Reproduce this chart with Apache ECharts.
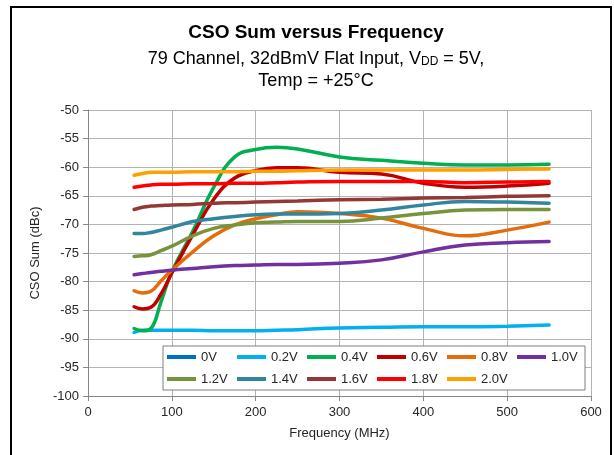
<!DOCTYPE html>
<html>
<head>
<meta charset="utf-8">
<script src="https://cdn.jsdelivr.net/npm/echarts@6/dist/echarts.min.js"></script>
<style>html,body{margin:0;padding:0;background:#fff}#c{width:614px;height:455px}</style>
</head>
<body>
<div id="c"></div>
<script>
// ---- data ----
var freq = [55, 65, 75, 87, 100, 125, 150, 175, 200, 225, 250, 300, 350, 400, 450, 500, 550];
var seriesNames = ['0V', '0.2V', '0.4V', '0.6V', '0.8V', '1.0V', '1.2V', '1.4V', '1.6V', '1.8V', '2.0V'];
var v0_0 = [];
var v0_2 = [-88.9, -88.5, -88.5, -88.5, -88.5, -88.5, -88.6, -88.6, -88.6, -88.5, -88.4, -88.1, -88.0, -87.9, -87.9, -87.8, -87.6];
var v0_4 = [-88.2, -88.6, -88.2, -83.6, -78.3, -71.2, -63.5, -58.2, -56.9, -56.5, -56.8, -58.2, -58.8, -59.3, -59.6, -59.6, -59.5];
var v0_6 = [-84.4, -84.8, -84.5, -82.2, -78.5, -71.8, -65.6, -61.9, -60.6, -60.1, -60.1, -60.9, -61.2, -62.8, -63.5, -63.3, -62.8];
var v0_8 = [-81.6, -82.0, -81.7, -79.9, -78.0, -74.8, -72.0, -70.1, -69.0, -68.3, -67.8, -68.1, -68.9, -70.7, -72.0, -71.0, -69.6];
var v1_0 = [-78.8, -78.6, -78.4, -78.2, -78.0, -77.7, -77.4, -77.2, -77.1, -77.0, -77.0, -76.8, -76.2, -74.8, -73.6, -73.2, -73.0];
var v1_2 = [-75.6, -75.5, -75.3, -74.6, -73.8, -72.0, -70.7, -70.1, -69.7, -69.6, -69.5, -69.5, -68.9, -68.1, -67.5, -67.4, -67.4];
var v1_4 = [-71.6, -71.6, -71.4, -71.0, -70.5, -69.5, -69.0, -68.6, -68.3, -68.2, -68.2, -68.1, -67.5, -66.6, -66.0, -66.1, -66.3];
var v1_6 = [-67.4, -67.0, -66.8, -66.7, -66.6, -66.5, -66.3, -66.2, -66.1, -66.0, -65.9, -65.7, -65.6, -65.4, -65.3, -65.1, -65.0];
var v1_8 = [-63.5, -63.3, -63.1, -63.0, -63.0, -62.9, -62.9, -62.8, -62.8, -62.7, -62.6, -62.5, -62.5, -62.5, -62.7, -62.6, -62.5];
var v2_0 = [-61.4, -61.1, -60.9, -60.9, -60.9, -60.8, -60.8, -60.8, -60.7, -60.7, -60.6, -60.5, -60.5, -60.5, -60.5, -60.4, -60.3];
var xTicks = [0, 100, 200, 300, 400, 500, 600];
var yTicks = [-100, -95, -90, -85, -80, -75, -70, -65, -60, -55, -50];

var values = [v0_0, v0_2, v0_4, v0_6, v0_8, v1_0, v1_2, v1_4, v1_6, v1_8, v2_0];
var colors = ['#0070C0', '#00B0F0', '#00B050', '#C00000', '#E46C0A', '#7030A0', '#77933C', '#31859C', '#953735', '#FF0000', '#FFA000'];

var FONT = 'Liberation Sans, Arial, sans-serif';

var series = seriesNames.map(function (name, k) {
  return {
    name: name,
    type: 'line',
    smooth: 0.45,
    showSymbol: false,
    symbol: 'none',
    lineStyle: { width: 3.5, color: colors[k], cap: 'round' },
    itemStyle: { color: colors[k] },
    data: values[k].map(function (v, i) { return [freq[i], v]; }),
    z: 2 + k
  };
});

var chart = echarts.init(document.getElementById('c'), null, { renderer: 'canvas' });
chart.setOption({
  animation: false,
  backgroundColor: '#fff',
  color: colors,
  title: [
    {
      text: 'CSO Sum versus Frequency',
      left: 311, top: 18, textAlign: 'center',
      textStyle: { fontFamily: FONT, fontSize: 19, fontWeight: 'bold', color: '#000' }
    },
    {
      text: '{n|79 Channel, 32dBmV Flat Input, V}{s|DD}{n| = 5V,}\n{n|Temp = +25°C}',
      left: 311, top: 41, textAlign: 'center',
      textStyle: {
        fontFamily: FONT, fontSize: 18, fontWeight: 'normal', color: '#000', align: 'center',
        rich: {
          n: { fontFamily: FONT, fontSize: 18, fontWeight: 'normal', color: '#000', lineHeight: 22, verticalAlign: 'bottom' },
          s: { fontFamily: FONT, fontSize: 12, fontWeight: 'normal', color: '#000', lineHeight: 11, verticalAlign: 'bottom' }
        }
      }
    }
  ],
  graphic: [
    { type: 'rect', shape: { x: 11, y: 7, width: 600, height: 470 }, style: { fill: 'none', stroke: '#000', lineWidth: 2 }, z: 100 }
  ],
  grid: { left: 88, right: 23, top: 110, bottom: 59, containLabel: false },
  legend: {
    data: seriesNames,
    left: 163, top: 346,
    width: 420,
    orient: 'horizontal',
    itemWidth: 29, itemHeight: 4, itemGap: 4,
    icon: 'rect',
    padding: [2, 2, 2, 4],
    borderColor: '#7f7f7f', borderWidth: 1,
    backgroundColor: '#fff',
    textStyle: { fontFamily: FONT, fontSize: 13, color: '#262626', width: 32, lineHeight: 18 }
  },
  xAxis: {
    type: 'value', min: xTicks[0], max: xTicks[xTicks.length - 1], interval: 100,
    name: 'Frequency (MHz)', nameLocation: 'middle', nameGap: 31,
    nameTextStyle: { fontFamily: FONT, fontSize: 13, color: '#262626' },
    axisLine: { show: true, lineStyle: { color: '#868686', width: 1 } },
    axisTick: { show: true, length: 5, lineStyle: { color: '#868686' } },
    axisLabel: { fontFamily: FONT, fontSize: 13, color: '#262626', margin: 10 },
    splitLine: { show: true, lineStyle: { color: '#b3b3b3', width: 1 } }
  },
  yAxis: {
    type: 'value', min: yTicks[0], max: yTicks[yTicks.length - 1], interval: 5,
    name: 'CSO Sum (dBc)', nameLocation: 'middle', nameGap: 45,
    nameTextStyle: { fontFamily: FONT, fontSize: 13, color: '#262626' },
    axisLine: { show: true, lineStyle: { color: '#868686', width: 1 } },
    axisTick: { show: true, length: 5, lineStyle: { color: '#868686' } },
    axisLabel: { fontFamily: FONT, fontSize: 13, color: '#262626', margin: 9 },
    splitLine: { show: true, lineStyle: { color: '#b3b3b3', width: 1 } }
  },
  series: series
});
</script>
</body>
</html>
